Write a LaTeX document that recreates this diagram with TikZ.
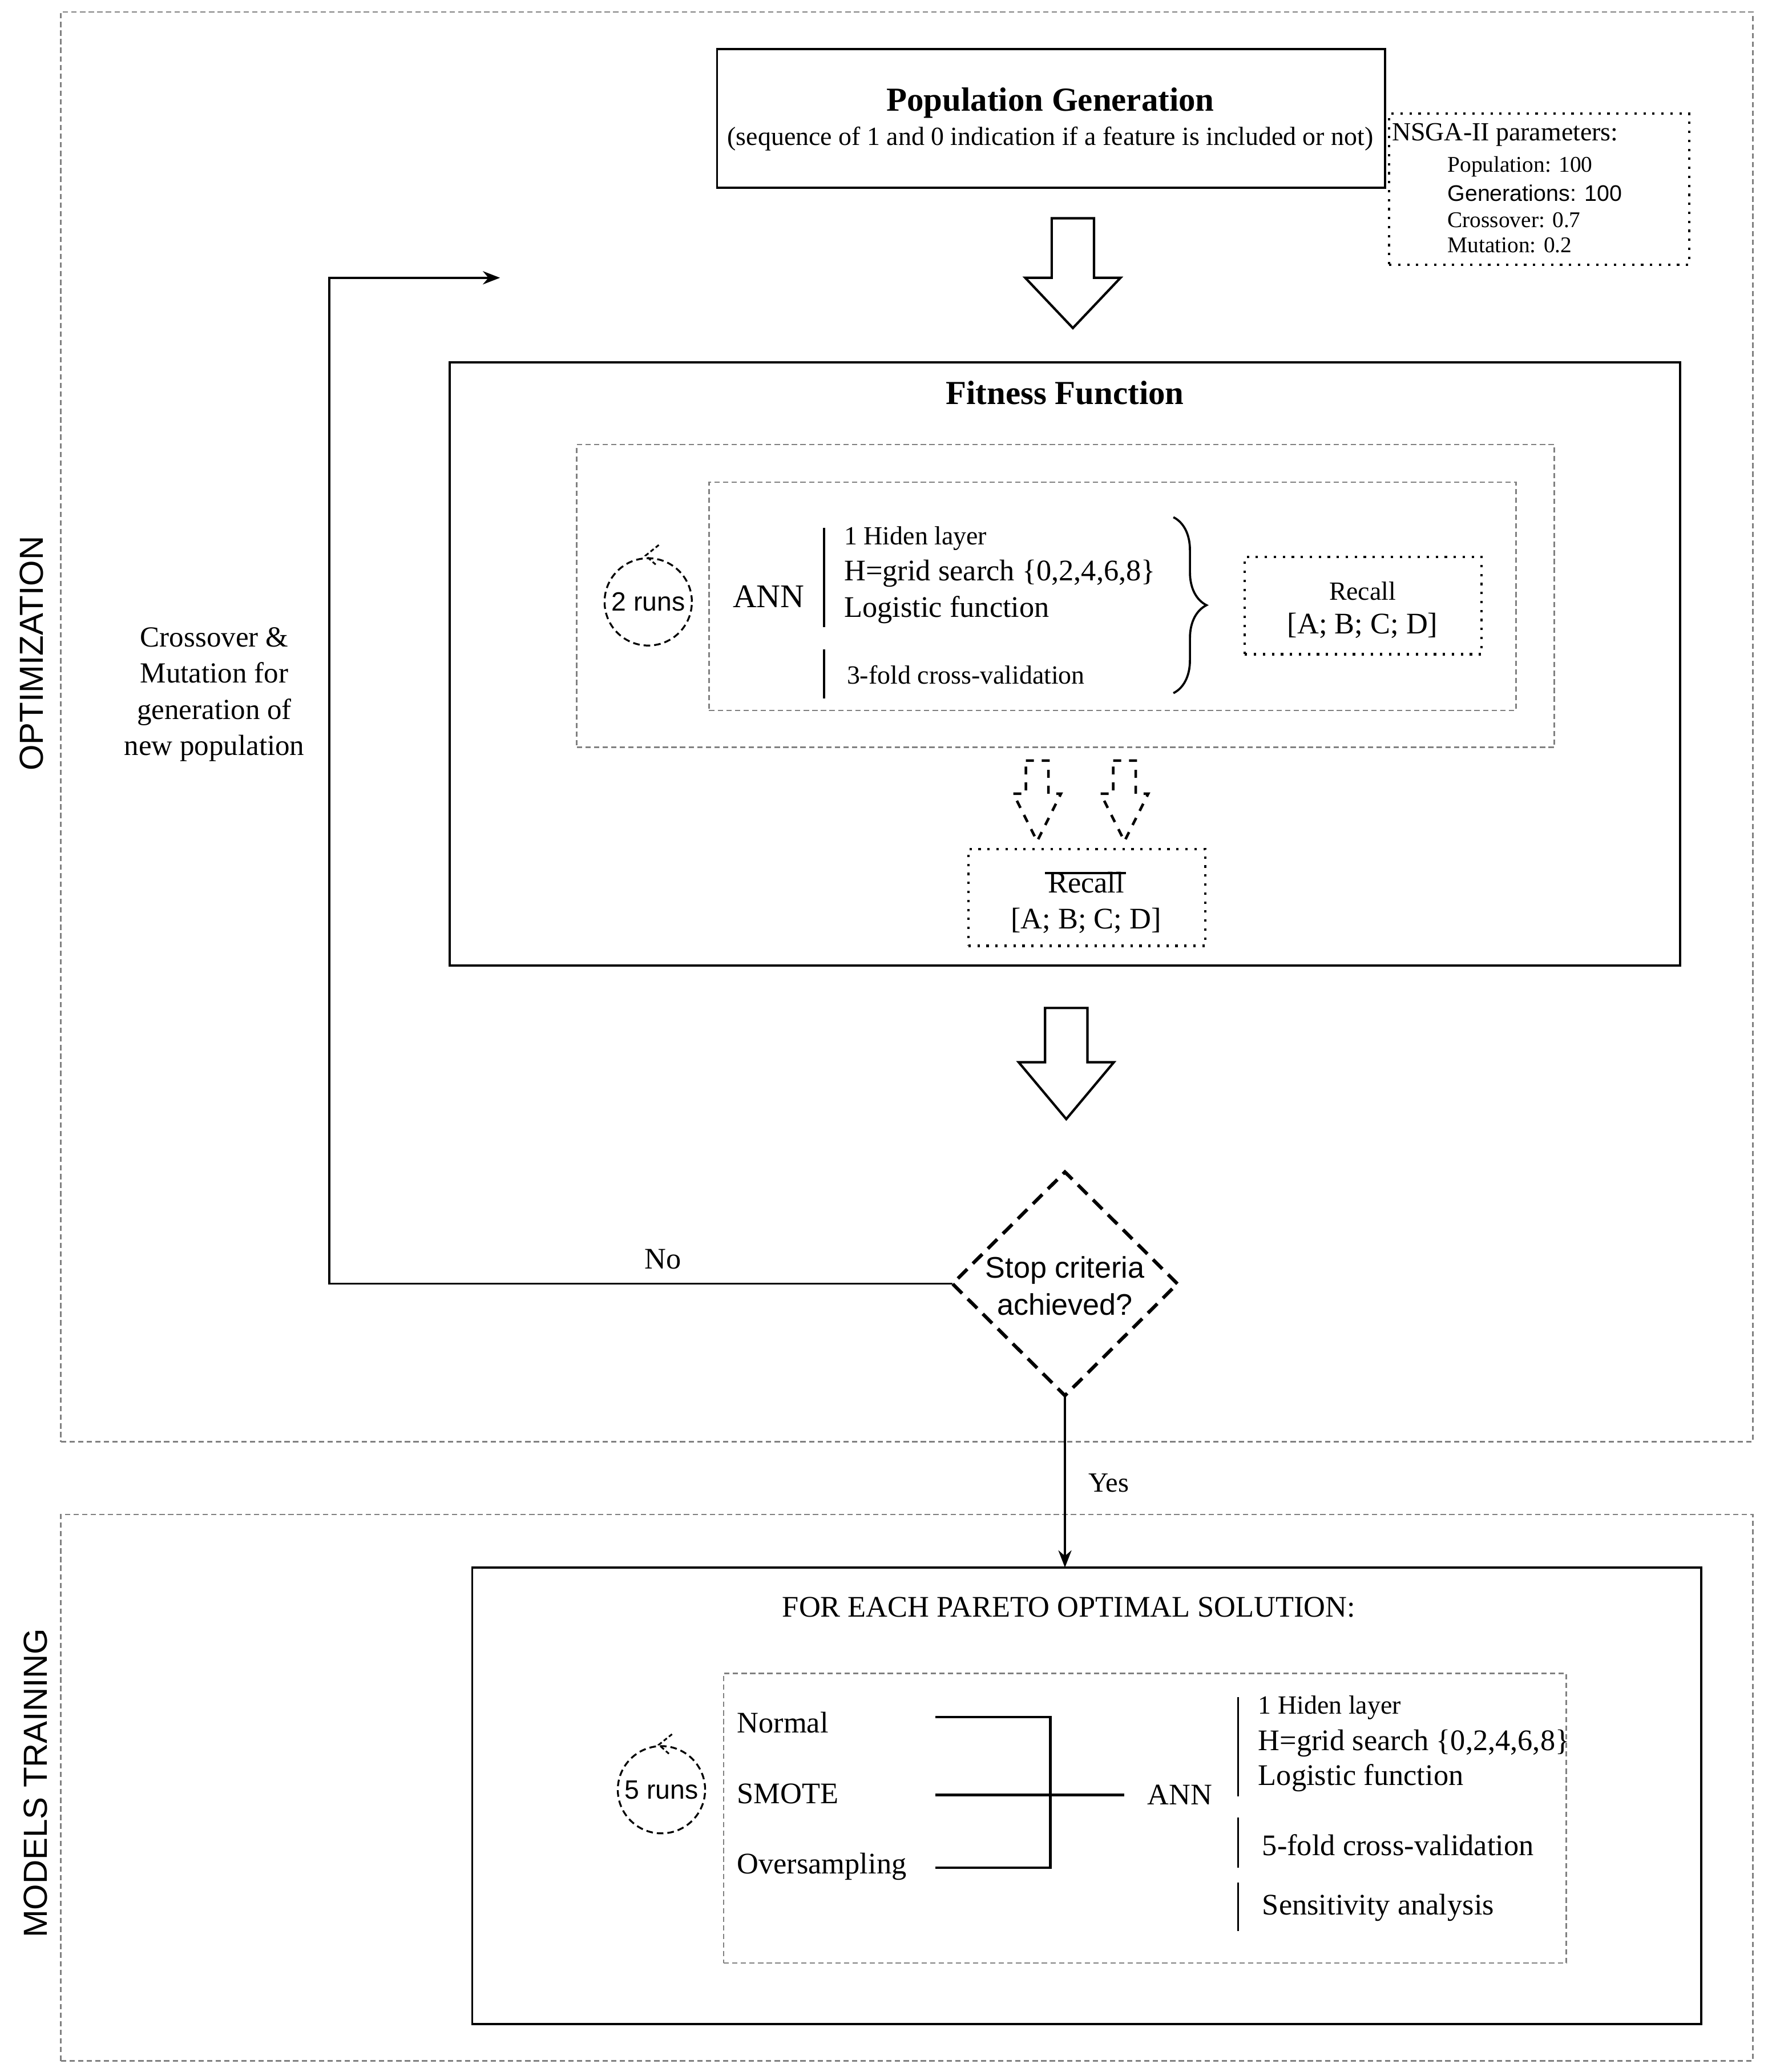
\documentclass[tikz,border=0pt]{standalone}
\usepackage{fontspec}
\setmainfont{Liberation Serif}
\setsansfont{Liberation Sans}
\usetikzlibrary{shapes.geometric,arrows.meta,decorations.pathreplacing}
\definecolor{dashgray}{RGB}{128,128,128}
\tikzset{
 fbox/.style={draw, line width=1.6pt, inner sep=0pt, outer sep=0pt},
 gbox/.style={draw=dashgray, line width=1.1pt, dash pattern=on 4pt off 2.5pt, inner sep=0pt, outer sep=0pt},
 dbox/.style={draw, line width=1.8pt, dash pattern=on 1.8pt off 5pt, inner sep=0pt, outer sep=0pt},
 t22/.style={inner sep=0pt, font=\fontsize{22.6}{27}\selectfont},
 t20/.style={inner sep=0pt, font=\fontsize{19.8}{24}\selectfont},
 t17/.style={inner sep=0pt, font=\fontsize{17}{20}\selectfont},
 s17/.style={inner sep=0pt, font=\sffamily\fontsize{17}{20}\selectfont},
 tb/.style={inner sep=0pt, font=\bfseries\fontsize{25.4}{30}\selectfont},
 s20/.style={inner sep=0pt, font=\sffamily\fontsize{20}{24}\selectfont},
 s22/.style={inner sep=0pt, font=\sffamily\fontsize{22.5}{28}\selectfont},
 s25/.style={inner sep=0pt, font=\sffamily\fontsize{25.2}{30}\selectfont},
 hollow/.style={draw, line width=1.8pt, line join=miter},
 dhollow/.style={draw, line width=2pt, dash pattern=on 6pt off 6pt},
 conn/.style={draw, line width=1.5pt},
 tipstyle/.style={-{Stealth[length=13pt,width=10pt]}},
 loopc/.style={circle, draw, line width=1.4pt, dash pattern=on 5pt off 3pt, minimum size=66pt, inner sep=0pt},
 vbar/.style={draw, line width=1.5pt},
 bracket/.style={draw, line width=2pt},
}
\begin{document}
\begin{tikzpicture}[x=1pt,y=-1pt]
\useasboundingbox (0,0) rectangle (1336.1,1566.4);

% section frames
\node[gbox, minimum width=1279pt, minimum height=1081pt] (opt) at (685.5,549.5) {};
\node[gbox, minimum width=1279pt, minimum height=413pt] (mod) at (685.5,1351.5) {};
\node[s25, rotate=90] (optlbl) at (24,494) {OPTIMIZATION};
\node[s25, rotate=90] (modlbl) at (27,1348) {MODELS TRAINING};

% population generation
\node[fbox, minimum width=505pt, minimum height=105pt] (pop) at (794.5,89.5) {};
\node[tb] (poptitle) at (794,78) {Population Generation};
\node[t20] (popsub) at (794,105) {(sequence of 1 and 0 indication if a feature is included or not)};

% NSGA parameters
\node[dbox, minimum width=227pt, minimum height=114pt] (nsga) at (1163.5,143) {};
\node[t20, anchor=west] (nsga0) at (1052,102) {NSGA-II parameters:};
\node[t17, anchor=west] (nsga1) at (1094,126) {Population: 100};
\node[s17, anchor=west] (nsga2) at (1094,146) {Generations: 100};
\node[t17, anchor=west] (nsga3) at (1094,166.5) {Crossover: 0.7};
\node[t17, anchor=west] (nsga4) at (1094,185.5) {Mutation: 0.2};

% big arrow 1
\draw[hollow] (795,165) -- (827,165) -- (827,210) -- (847,210) -- (811,248) -- (775,210) -- (795,210) -- cycle;

% fitness function
\node[fbox, minimum width=930pt, minimum height=456pt] (fit) at (805,502) {};
\node[tb] (fittitle) at (805,297) {Fitness Function};
\node[gbox, minimum width=739pt, minimum height=229pt] (g1) at (805.5,450.5) {};
\node[gbox, minimum width=610pt, minimum height=172.5pt] (g2) at (841,450.75) {};

\node[loopc, s20] (runs2) at (490,455) {2 runs};
\draw[line width=1.3pt, dash pattern=on 3pt off 2pt] (498,412) -- (488,420) -- (497,428);
\node[inner sep=0pt, font=\fontsize{25}{30}\selectfont] (ann1) at (581,451) {ANN};
\draw[vbar] (623,399) -- (623,474);
\draw[vbar] (623,491) -- (623,528);
\node[t20, anchor=west] (h1a) at (638,407) {1 Hiden layer};
\node[t22, anchor=west] (h1b) at (638,433.5) {H=grid search \{0,2,4,6,8\}};
\node[t22, anchor=west] (h1c) at (638,461) {Logistic function};
\node[t20, anchor=west] (h1d) at (640,510) {3-fold cross-validation};
\draw[decorate, decoration={brace, amplitude=25pt}, line width=1.6pt] (887,391) -- (887,524);

\node[dbox, minimum width=179pt, minimum height=73.6pt] (rec1) at (1030.5,457.8) {};
\node[t20] (rec1a) at (1030,446.7) {Recall};
\node[t22] (rec1b) at (1030,473) {[A; B; C; D]};

% dashed arrows
\draw[dhollow] (775.5,575) -- (792.5,575) -- (792.5,600) -- (802,600) -- (784,636) -- (766,600) -- (775.5,600) -- cycle;
\draw[dhollow] (841.5,575) -- (858.5,575) -- (858.5,600) -- (868,600) -- (850,636) -- (832,600) -- (841.5,600) -- cycle;

\node[dbox, minimum width=179pt, minimum height=73pt] (rec2) at (821.5,678.5) {};
\node[t22] (rec2a) at (821,667) {Recall};
\coordinate (barL) at (790,660);
\coordinate (barR) at (851,660);
\draw[line width=1.6pt] (barL) -- (barR);
\node[t22] (rec2b) at (821,696) {[A; B; C; D]};

% big arrow 2
\draw[hollow] (790,762) -- (822,762) -- (822,803) -- (842,803) -- (806,846) -- (770,803) -- (790,803) -- cycle;

% decision
\node[diamond, draw, line width=2.6pt, dash pattern=on 10pt off 6pt, minimum width=170pt, minimum height=169pt, inner sep=0pt, outer sep=0pt] (stop) at (805,970.5) {};
\node[s22, align=center] (stoptxt) at (805,972) {Stop criteria\\achieved?};

% no loop
\coordinate (c1) at (249,970.5);
\coordinate (c2) at (249,210);
\coordinate (loopend) at (378,210);
\draw[conn, tipstyle] (stop.west) -- (c1) -- (c2) -- (loopend);
\node[t22] (nolbl) at (501,952) {No};
\node[inner sep=0pt, align=center, font=\fontsize{22}{27.3}\selectfont] (cmtxt) at (162,525) {Crossover \&\\Mutation for\\generation of\\new population};

% models training
\node[fbox, minimum width=929pt, minimum height=345pt] (models) at (821.5,1357.5) {};
\draw[conn, tipstyle] (stop.south) -- (stop.south |- models.north);
\node[inner sep=0pt, font=\fontsize{21}{25}\selectfont] (yeslbl) at (838,1121) {Yes};
\node[t22] (fortxt) at (808,1215) {FOR EACH PARETO OPTIMAL SOLUTION:};
\node[gbox, minimum width=637pt, minimum height=219pt] (g3) at (865.5,1374.5) {};
\node[loopc, s20] (runs5) at (500,1353) {5 runs};
\draw[line width=1.3pt, dash pattern=on 3pt off 2pt] (508,1311) -- (498,1319) -- (507,1327);

\node[t22, anchor=west] (normal) at (557,1302) {Normal};
\node[t22, anchor=west] (smote) at (557,1356) {SMOTE};
\node[t22, anchor=west] (overs) at (557,1411) {Oversampling};
\coordinate (nA) at (707,1298);
\coordinate (nB) at (794,1298);
\coordinate (oA) at (707,1412);
\coordinate (oB) at (794,1412);
\coordinate (sA) at (707,1357);
\coordinate (sB) at (850,1357);
\node[t22] (ann2) at (892,1357) {ANN};
\draw[bracket] (nA) -- (nB) -- (oB) -- (oA);
\draw[bracket] (sA) -- (sB);

\draw[vbar] (936,1283) -- (936,1358);
\draw[vbar] (936,1374) -- (936,1412);
\draw[vbar] (936,1423) -- (936,1460);
\node[t20, anchor=west] (h2a) at (951,1291) {1 Hiden layer};
\node[t22, anchor=west] (h2b) at (951,1318) {H=grid search \{0,2,4,6,8\}};
\node[t22, anchor=west] (h2c) at (951,1344) {Logistic function};
\node[t22, anchor=west] (h2d) at (954,1395) {5-fold cross-validation};
\node[t22, anchor=west] (h2e) at (954,1442) {Sensitivity analysis};
\end{tikzpicture}
\end{document}
